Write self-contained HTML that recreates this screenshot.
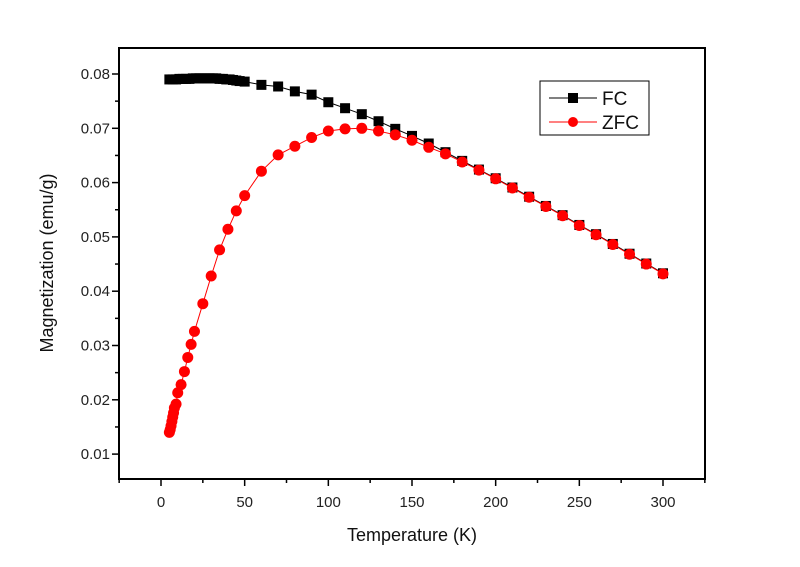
<!DOCTYPE html>
<html><head><meta charset="utf-8"><style>body{margin:0;background:#fff}svg{display:block;font-family:"Liberation Sans",Arial,sans-serif}</style></head>
<body>
<svg id="chart" width="800" height="567"></svg>
<script>
const fcT=[5,7,9,11,13,15,17,19,21,23,25,27,29,31,33,35,37,39,41,43,45,47,50,60,70,80,90,100,110,120,130,140,150,160,170,180,190,200,210,220,230,240,250,260,270,280,290,300];
const fcM=[0.0790,0.0790,0.0790,0.0791,0.0791,0.0791,0.0791,0.0792,0.0792,0.0792,0.0792,0.0792,0.0792,0.0792,0.0792,0.0791,0.0791,0.0790,0.0790,0.0789,0.0788,0.0787,0.0786,0.0780,0.0777,0.0768,0.0762,0.0748,0.0737,0.0726,0.0713,0.0699,0.0686,0.0672,0.0656,0.0640,0.0624,0.0608,0.0591,0.0574,0.0557,0.0540,0.0522,0.0505,0.0487,0.0469,0.0451,0.0433];
const zfcT=[5,5.5,6,6.5,7,7.5,8,9,10,12,14,16,18,20,25,30,35,40,45,50,60,70,80,90,100,110,120,130,140,150,160,170,180,190,200,210,220,230,240,250,260,270,280,290,300];
const zfcM=[0.0140,0.0145,0.0152,0.0160,0.0168,0.0176,0.0185,0.0192,0.0213,0.0228,0.0252,0.0278,0.0302,0.0326,0.0377,0.0428,0.0476,0.0514,0.0548,0.0576,0.0621,0.0651,0.0667,0.0683,0.0695,0.0699,0.0700,0.0695,0.0688,0.0678,0.0665,0.0653,0.0638,0.0623,0.0607,0.0590,0.0573,0.0556,0.0539,0.0521,0.0504,0.0486,0.0468,0.0450,0.0432];
const xTicks=[0,50,100,150,200,250,300];
const yTicks=[0.01,0.02,0.03,0.04,0.05,0.06,0.07,0.08];
const L=119,R=705,T=48,B=479;
const X=v=>161+(v)*(663-161)/300;
const Y=v=>74+(0.08-v)*5430;
const NS="http://www.w3.org/2000/svg",svg=document.getElementById('chart');
function mk(t,a,p){const e=document.createElementNS(NS,t);for(const k in a)e.setAttribute(k,a[k]);(p||svg).appendChild(e);return e;}
let e;
e=mk('rect',{x:L,y:T,width:R-L,height:B-T,fill:'none',stroke:'#000','stroke-width':2});


for(let v=-25;v<=325;v+=25){const maj=v%50===0;e=mk('line',{x1:X(v),x2:X(v),y1:B,y2:B+(maj?7:4),stroke:'#000','stroke-width':1.5});

}
xTicks.forEach(v=>{e=mk('text',{x:X(v),y:B+28,'text-anchor':'middle','font-size':15,fill:'#222'});e.textContent=v;

});
for(let i=1;i<=16;i++){const v=0.005*i;const y=Y(v);if(y<T||y>B)continue;const maj=i%2===0;e=mk('line',{x1:L,x2:L-(maj?7:4),y1:y,y2:y,stroke:'#000','stroke-width':1.5});

}
yTicks.forEach(v=>{e=mk('text',{x:L-9,y:Y(v)+5,'text-anchor':'end','font-size':15,fill:'#222'});e.textContent=v.toFixed(2);

});
e=mk('text',{x:412,y:541,'text-anchor':'middle','font-size':18,fill:'#111'});e.textContent='Temperature (K)';


e=mk('text',{x:0,y:0,'text-anchor':'middle','font-size':18,fill:'#111',transform:'translate(53,263) rotate(-90)'});e.textContent='Magnetization (emu/g)';


function series(ts,ms,col,sq,name){
 e=mk('polyline',{points:ts.map((t,i)=>X(t)+','+Y(ms[i])).join(' '),fill:'none',stroke:col,'stroke-width':1});
 
 
 ts.forEach((t,i)=>{if(sq)e=mk('rect',{x:X(t)-5,y:Y(ms[i])-5,width:10,height:10,fill:col});else e=mk('circle',{cx:X(t),cy:Y(ms[i]),r:5.5,fill:col});
 
 });
}
series(fcT,fcM,'#000',true,'fc');
series(zfcT,zfcM,'#f00',false,'zfc');
const g=mk('g',{});


mk('rect',{x:540,y:81,width:109,height:54,fill:'#fff',stroke:'#000','stroke-width':1},g);
mk('line',{x1:549,x2:597,y1:98,y2:98,stroke:'#000'},g);mk('rect',{x:568,y:93,width:10,height:10,fill:'#000'},g);
mk('line',{x1:549,x2:597,y1:122,y2:122,stroke:'#f00'},g);mk('circle',{cx:573,cy:122,r:5,fill:'#f00'},g);
e=mk('text',{x:602,y:105,'font-size':19,fill:'#111'},g);e.textContent='FC';


e=mk('text',{x:602,y:129,'font-size':19,fill:'#111'},g);e.textContent='ZFC';


</script>
</body></html>
